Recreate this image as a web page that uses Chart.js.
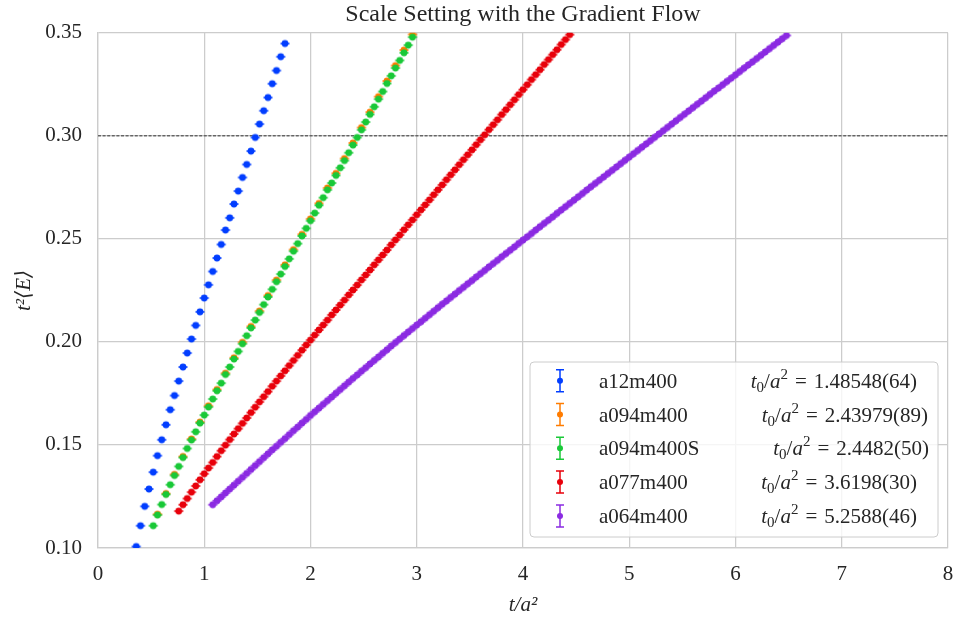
<!DOCTYPE html>
<html>
<head>
<meta charset="utf-8">
<script src="https://cdn.jsdelivr.net/npm/chart.js@4.4.1/dist/chart.umd.min.js"></script>
<style>
  html, body { margin: 0; padding: 0; background: #fff; }
</style>
</head>
<body>
<canvas id="chart" width="955" height="620"></canvas>
<script>
// flow time grid t/a^2 shared by all ensembles
const flowTime = [
  0.36, 0.40, 0.44, 0.48, 0.52, 0.56, 0.60, 0.64, 0.68, 0.72, 0.76, 0.80, 0.84, 0.88, 0.92, 0.96,
  1.00, 1.04, 1.08, 1.12, 1.16, 1.20, 1.24, 1.28, 1.32, 1.36, 1.40, 1.44, 1.48, 1.52, 1.56, 1.60, 1.64, 1.68, 1.72, 1.76, 1.80, 1.84, 1.88, 1.92, 1.96,
  2.00, 2.04, 2.08, 2.12, 2.16, 2.20, 2.24, 2.28, 2.32, 2.36, 2.40, 2.44, 2.48, 2.52, 2.56, 2.60, 2.64, 2.68, 2.72, 2.76, 2.80, 2.84, 2.88, 2.92, 2.96,
  3.00, 3.04, 3.08, 3.12, 3.16, 3.20, 3.24, 3.28, 3.32, 3.36, 3.40, 3.44, 3.48, 3.52, 3.56, 3.60, 3.64, 3.68, 3.72, 3.76, 3.80, 3.84, 3.88, 3.92, 3.96,
  4.00, 4.04, 4.08, 4.12, 4.16, 4.20, 4.24, 4.28, 4.32, 4.36, 4.40, 4.44, 4.48, 4.52, 4.56, 4.60, 4.64, 4.68, 4.72, 4.76, 4.80, 4.84, 4.88, 4.92, 4.96,
  5.00, 5.04, 5.08, 5.12, 5.16, 5.20, 5.24, 5.28, 5.32, 5.36, 5.40, 5.44, 5.48, 5.52, 5.56, 5.60, 5.64, 5.68, 5.72, 5.76, 5.80, 5.84, 5.88, 5.92, 5.96,
  6.00, 6.04, 6.08, 6.12, 6.16, 6.20, 6.24, 6.28, 6.32, 6.36, 6.40, 6.44, 6.48
];

const seriesNames = ["a12m400", "a094m400", "a094m400S", "a077m400", "a064m400"];
const t0Values = ["1.48548(64)", "2.43979(89)", "2.4482(50)", "3.6198(30)", "5.2588(46)"];
const seriesColors = ["#023eff", "#ff7c00", "#1ac938", "#e8000b", "#8b2be2"];
const firstT = [0.36, 0.56, 0.52, 0.76, 1.08];
const tStride = [1, 2, 1, 1, 1];

// t^2 <E> per ensemble
const a12m400 = [
  0.1007, 0.1108, 0.1202, 0.1286, 0.1368, 0.1448, 0.1525, 0.1598, 0.1671, 0.1740, 0.1810, 0.1878,
  0.1946, 0.2014, 0.2080, 0.2146, 0.2213, 0.2277, 0.2342, 0.2407, 0.2473, 0.2543, 0.2602, 0.2669,
  0.2732, 0.2798, 0.2861, 0.2926, 0.2992, 0.3057, 0.3122, 0.3186, 0.3253, 0.3317, 0.3384, 0.3448
];
const a094m400 = [
  0.1164, 0.1264, 0.1357, 0.1444, 0.1529, 0.1611, 0.1690, 0.1769, 0.1848, 0.1923, 0.1998, 0.2075,
  0.2150, 0.2225, 0.2300, 0.2374, 0.2448, 0.2522, 0.2597, 0.2672, 0.2747, 0.2818, 0.2890, 0.2965,
  0.3040, 0.3115, 0.3190, 0.3266, 0.3341, 0.3416, 0.3492
];
const a094m400S = [
  0.1108, 0.1160, 0.1211, 0.1260, 0.1307, 0.1352, 0.1396, 0.1439, 0.1483, 0.1524, 0.1564, 0.1606,
  0.1645, 0.1684, 0.1723, 0.1763, 0.1800, 0.1842, 0.1878, 0.1917, 0.1954, 0.1991, 0.2030, 0.2068,
  0.2106, 0.2143, 0.2181, 0.2218, 0.2255, 0.2292, 0.2329, 0.2366, 0.2403, 0.2440, 0.2477, 0.2514,
  0.2551, 0.2588, 0.2625, 0.2663, 0.2700, 0.2738, 0.2771, 0.2808, 0.2845, 0.2880, 0.2918, 0.2955,
  0.2992, 0.3029, 0.3067, 0.3104, 0.3141, 0.3178, 0.3215, 0.3254, 0.3291, 0.3329, 0.3366, 0.3403,
  0.3440, 0.3479
];
const a077m400 = [
  0.1179, 0.1210, 0.1240, 0.1271, 0.1301, 0.1331, 0.1360, 0.1388, 0.1415, 0.1444, 0.1472, 0.1499,
  0.1526, 0.1553, 0.1579, 0.1605, 0.1631, 0.1657, 0.1683, 0.1709, 0.1734, 0.1759, 0.1785, 0.1810,
  0.1835, 0.1860, 0.1885, 0.1910, 0.1935, 0.1960, 0.1985, 0.2009, 0.2033, 0.2058, 0.2082, 0.2106,
  0.2131, 0.2155, 0.2179, 0.2203, 0.2228, 0.2252, 0.2276, 0.2301, 0.2325, 0.2349, 0.2374, 0.2398,
  0.2422, 0.2446, 0.2471, 0.2495, 0.2519, 0.2544, 0.2568, 0.2592, 0.2617, 0.2641, 0.2665, 0.2689,
  0.2714, 0.2738, 0.2762, 0.2787, 0.2811, 0.2835, 0.2860, 0.2884, 0.2908, 0.2932, 0.2957, 0.2981,
  0.3005, 0.3030, 0.3054, 0.3078, 0.3103, 0.3127, 0.3151, 0.3175, 0.3200, 0.3224, 0.3248, 0.3273,
  0.3297, 0.3321, 0.3346, 0.3370, 0.3394, 0.3418, 0.3443, 0.3467, 0.3491
];
const a064m400 = [
  0.1210, 0.1229, 0.1248, 0.1267, 0.1286, 0.1305, 0.1324, 0.1343, 0.1362, 0.1381, 0.1400, 0.1419,
  0.1438, 0.1457, 0.1476, 0.1494, 0.1513, 0.1531, 0.1550, 0.1569, 0.1587, 0.1606, 0.1624, 0.1643,
  0.1661, 0.1679, 0.1697, 0.1715, 0.1733, 0.1751, 0.1769, 0.1787, 0.1805, 0.1823, 0.1840, 0.1858,
  0.1875, 0.1893, 0.1910, 0.1927, 0.1945, 0.1962, 0.1980, 0.1997, 0.2014, 0.2031, 0.2048, 0.2065,
  0.2082, 0.2098, 0.2115, 0.2132, 0.2149, 0.2166, 0.2183, 0.2199, 0.2216, 0.2232, 0.2249, 0.2265,
  0.2282, 0.2298, 0.2315, 0.2331, 0.2347, 0.2364, 0.2380, 0.2396, 0.2413, 0.2429, 0.2445, 0.2461,
  0.2478, 0.2494, 0.2510, 0.2526, 0.2543, 0.2559, 0.2575, 0.2591, 0.2607, 0.2624, 0.2640, 0.2656,
  0.2672, 0.2688, 0.2704, 0.2720, 0.2737, 0.2753, 0.2769, 0.2785, 0.2801, 0.2817, 0.2833, 0.2849,
  0.2865, 0.2881, 0.2897, 0.2913, 0.2929, 0.2945, 0.2961, 0.2977, 0.2993, 0.3009, 0.3025, 0.3041,
  0.3057, 0.3073, 0.3089, 0.3105, 0.3121, 0.3137, 0.3153, 0.3169, 0.3185, 0.3201, 0.3217, 0.3232,
  0.3248, 0.3264, 0.3280, 0.3296, 0.3312, 0.3328, 0.3344, 0.3359, 0.3375, 0.3391, 0.3407, 0.3423,
  0.3439, 0.3455, 0.3471, 0.3487
];
const seriesValues = [a12m400, a094m400, a094m400S, a077m400, a064m400];

const refLevel = 0.30;
const xTicks = [0, 8];
const yTicks = [0.10, 0.35];

const serif = "'Liberation Serif', 'DejaVu Serif', serif";
const textColor = "#262626";
const gridColor = "#cccccc";

// dot with the (tiny) error bar caps on top of it
function makeMarker(color) {
  const c = document.createElement("canvas");
  c.width = 12;
  c.height = 10;
  const g = c.getContext("2d");
  g.fillStyle = color;
  g.strokeStyle = color;
  g.beginPath();
  g.arc(6, 5, 3.4, 0, Math.PI * 2);
  g.fill();
  g.lineWidth = 1.6;
  g.beginPath();
  g.moveTo(1.5, 5);
  g.lineTo(10.5, 5);
  g.stroke();
  return c;
}

const datasets = seriesValues.map((vals, k) => {
  const start = flowTime.indexOf(firstT[k]);
  return {
    label: seriesNames[k],
    data: vals.map((y, j) => ({ x: flowTime[start + j * tStride[k]], y })),
    pointStyle: makeMarker(seriesColors[k]),
    pointRadius: 3,
    backgroundColor: seriesColors[k],
    borderColor: seriesColors[k],
    showLine: false,
    order: 5 - k
  };
});

datasets.push({
  type: "line",
  label: "ref",
  data: [{ x: xTicks[0], y: refLevel }, { x: xTicks[1], y: refLevel }],
  borderColor: "#333333",
  borderWidth: 1,
  borderDash: [3, 1.6],
  pointRadius: 0,
  order: 10
});

function drawT0(ctx, xRight, baseline, value) {
  const big = "21px " + serif;
  const bigIt = "italic 21px " + serif;
  const small = "15px " + serif;
  const parts = [
    { t: "t", f: bigIt, dy: 0 },
    { t: "0", f: small, dy: 4 },
    { t: "/", f: big, dy: 0 },
    { t: "a", f: bigIt, dy: 0 },
    { t: "2", f: small, dy: -9 },
    { t: "=", f: big, dy: 0, pad: 7 },
    { t: value, f: big, dy: 0 }
  ];
  let total = 0;
  parts.forEach(p => {
    ctx.font = p.f;
    p.w = ctx.measureText(p.t).width + (p.pad || 0) * 2;
    total += p.w;
  });
  let x = xRight - total;
  parts.forEach(p => {
    ctx.font = p.f;
    ctx.fillText(p.t, x + (p.pad || 0), baseline + p.dy);
    x += p.w;
  });
}

const rowRight = [387, 398, 399, 387, 387];

const t0Legend = {
  id: "t0Legend",
  afterDatasetsDraw(chart) {
    const { ctx, chartArea } = chart;
    const w = 408, h = 175;
    const x0 = chartArea.right - 10 - w;
    const y0 = chartArea.bottom - 11 - h;
    ctx.save();
    ctx.beginPath();
    ctx.roundRect(x0, y0, w, h, 4);
    ctx.fillStyle = "rgba(255,255,255,0.8)";
    ctx.fill();
    ctx.strokeStyle = gridColor;
    ctx.lineWidth = 1;
    ctx.stroke();

    seriesNames.forEach((name, k) => {
      const cy = y0 + 18.7 + k * 33.8;
      const ix = x0 + 30;
      const col = seriesColors[k];
      ctx.strokeStyle = col;
      ctx.lineWidth = 1.5;
      ctx.beginPath();
      ctx.moveTo(ix, cy - 11); ctx.lineTo(ix, cy + 11);
      ctx.moveTo(ix - 4, cy - 11); ctx.lineTo(ix + 4, cy - 11);
      ctx.moveTo(ix - 4, cy + 11); ctx.lineTo(ix + 4, cy + 11);
      ctx.stroke();
      ctx.fillStyle = col;
      ctx.beginPath();
      ctx.arc(ix, cy, 3, 0, Math.PI * 2);
      ctx.fill();

      ctx.fillStyle = textColor;
      ctx.textAlign = "left";
      ctx.textBaseline = "alphabetic";
      ctx.font = "21px " + serif;
      ctx.fillText(name, x0 + 69, cy + 7);
      drawT0(ctx, x0 + rowRight[k], cy + 7, t0Values[k]);
    });
    ctx.restore();
  }
};

new Chart(document.getElementById("chart"), {
  type: "scatter",
  data: { datasets },
  plugins: [t0Legend],
  options: {
    responsive: false,
    animation: false,
    layout: { padding: { left: 0, right: 7, top: 0, bottom: 0 } },
    plugins: {
      legend: { display: false },
      tooltip: { enabled: false },
      title: {
        display: true,
        fullSize: false,
        text: "Scale Setting with the Gradient Flow",
        color: textColor,
        font: { family: serif, size: 24, weight: "normal" },
        padding: { top: 0, bottom: 4 }
      }
    },
    scales: {
      x: {
        type: "linear",
        min: xTicks[0],
        max: xTicks[1],
        ticks: { stepSize: 1, color: textColor, font: { family: serif, size: 21 }, padding: 14 },
        grid: { color: gridColor, lineWidth: 1.25, drawTicks: false },
        border: { color: gridColor, width: 1.25 },
        title: {
          display: true,
          text: "t/a²",
          color: textColor,
          font: { family: serif, size: 21, style: "italic" },
          padding: { top: 0, bottom: 2 }
        },
        afterFit(scale) {
          scale.height = 72;
          scale.paddingLeft = 0;
          scale.paddingRight = 0;
        }
      },
      y: {
        min: yTicks[0],
        max: yTicks[1],
        ticks: {
          stepSize: 0.05,
          color: textColor,
          font: { family: serif, size: 21 },
          padding: 16,
          callback: v => v.toFixed(2)
        },
        grid: { color: gridColor, lineWidth: 1.25, drawTicks: false },
        border: { color: gridColor, width: 1.25 },
        title: {
          display: true,
          text: "t²⟨E⟩",
          color: textColor,
          font: { family: serif, size: 21, style: "italic" },
          padding: { top: 12, bottom: 0 }
        },
        afterFit(scale) {
          scale.width = 98;
          scale.paddingTop = 0;
          scale.paddingBottom = 0;
        }
      }
    }
  }
});
</script>
</body>
</html>
